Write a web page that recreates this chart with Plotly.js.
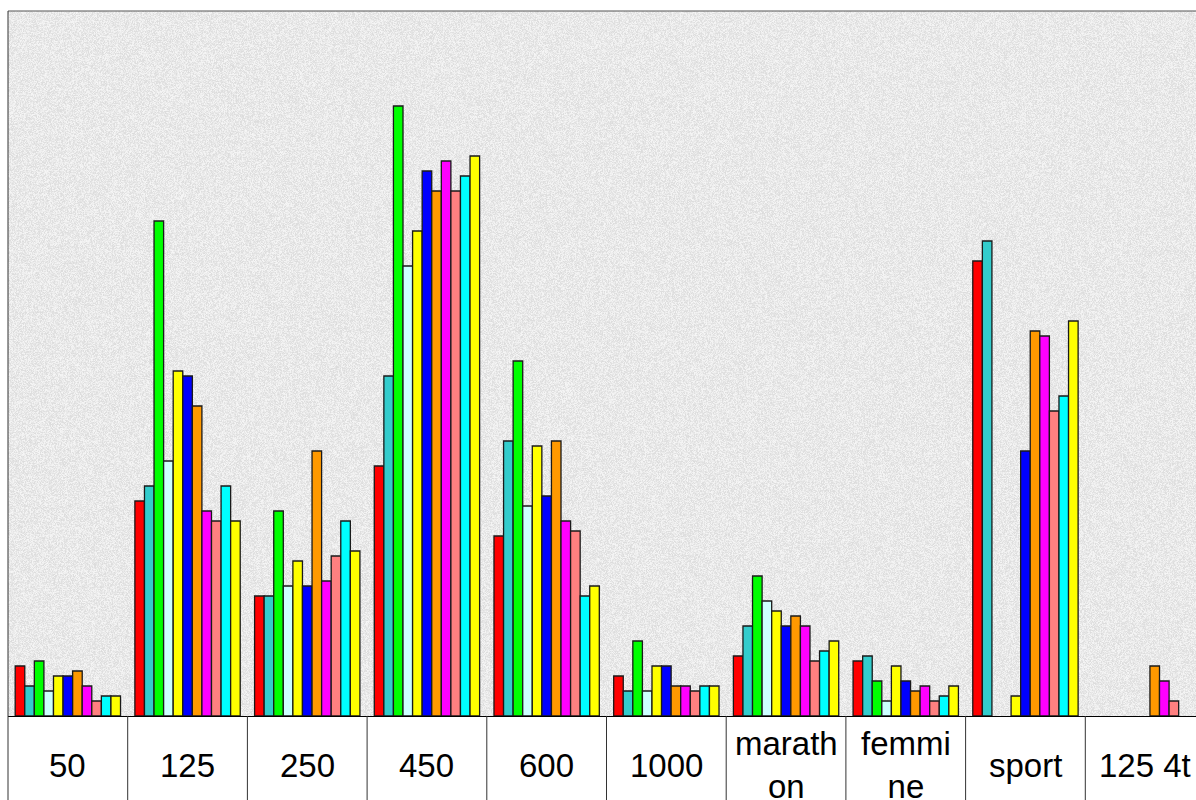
<!DOCTYPE html>
<html>
<head>
<meta charset="utf-8">
<script src="https://cdn.plot.ly/plotly-3.0.1.min.js"></script>
<style>html,body{margin:0;padding:0;overflow:hidden;background:#ffffff}</style>
</head>
<body>
<div id="chart"></div>
<script>
// ---- data ----
const categories = ["50", "125", "250", "450", "600", "1000", "marathon", "femmine", "sport", "125 4t"];
const tickLabels = ["50", "125", "250", "450", "600", "1000", "marath<br>on", "femmi<br>ne", "sport", "125 4t"];

const serie1  = [10, 43, 24,  50, 36,  8, 12, 11, 91, null];
const serie2  = [ 6, 46, 24,  68, 55,  5, 18, 12, 95, null];
const serie3  = [11, 99, 41, 122, 71, 15, 28,  7, null, null];
const serie4  = [ 5, 51, 26,  90, 42,  5, 23,  3, null, null];
const serie5  = [ 8, 69, 31,  97, 54, 10, 21, 10,  4, null];
const serie6  = [ 8, 68, 26, 109, 44, 10, 18,  7, 53, null];
const serie7  = [ 9, 62, 53, 105, 55,  6, 20,  5, 77, 10];
const serie8  = [ 6, 41, 27, 111, 39,  6, 18,  6, 76,  7];
const serie9  = [ 3, 39, 32, 105, 37,  5, 11,  3, 61,  3];
const serie10 = [ 4, 46, 39, 108, 24,  6, 13,  4, 64, null];
const serie11 = [ 4, 39, 33, 112, 26,  6, 15,  6, 79, null];

const seriesNames = ["Série 1","Série 2","Série 3","Série 4","Série 5","Série 6","Série 7","Série 8","Série 9","Série 10","Série 11"];
const seriesValues = [serie1, serie2, serie3, serie4, serie5, serie6, serie7, serie8, serie9, serie10, serie11];
const seriesColors = ["#FF0000","#33CCCC","#00FF00","#CCFFFF","#FFFF00","#0000FF","#FF9900","#FF00FF","#FF8080","#00FFFF","#FFFF00"];

// ---- decorative paper texture for the plot background ----
function texture(w, h) {
  const c = document.createElement('canvas');
  c.width = w; c.height = h;
  const ctx = c.getContext('2d');
  const img = ctx.createImageData(w, h);
  let s = 2463534242;
  for (let i = 0; i < w * h; i++) {
    s ^= s << 13; s ^= s >>> 17; s ^= s << 5;
    const r = ((s >>> 0) % 1000) / 1000;
    const g = Math.round(220 + r * 26);
    img.data[4*i] = g; img.data[4*i+1] = g; img.data[4*i+2] = g; img.data[4*i+3] = 255;
  }
  ctx.putImageData(img, 0, 0);
  return c.toDataURL('image/png');
}

const W = 1210, H = 800;
const M = {l: 8, r: 5, t: 11, b: 84};
const plotH = H - M.t - M.b;
const belowFrac = M.b / plotH;
const n = categories.length;

const traces = seriesValues.map((vals, i) => ({
  type: 'bar',
  name: seriesNames[i],
  x: categories,
  y: vals,
  marker: {color: seriesColors[i], line: {color: '#1a1a1a', width: 1.3}},
  hoverinfo: 'x+y+name'
}));

const shapes = [
  {type: 'line', xref: 'paper', yref: 'paper', x0: 0, x1: 1, y0: 1, y1: 1, line: {color: '#555555', width: 1}},
  {type: 'line', xref: 'paper', yref: 'paper', x0: 0, x1: 0, y0: 1, y1: -belowFrac, line: {color: '#333333', width: 1}}
];
for (let k = 1; k < n; k++) {
  shapes.push({type: 'line', xref: 'paper', yref: 'paper', x0: k / n, x1: k / n,
    y0: 0, y1: -belowFrac, line: {color: '#333333', width: 1}});
}

const annotations = tickLabels.map((t, i) => ({
  xref: 'paper', yref: 'paper', x: (i + 0.5) / n, y: -49 / plotH,
  text: t, showarrow: false, xanchor: 'center', yanchor: 'middle',
  font: {family: 'Liberation Sans, Arial, sans-serif', size: 33, color: '#000000'}
}));

const layout = {
  width: W, height: H,
  margin: M,
  paper_bgcolor: '#ffffff',
  plot_bgcolor: '#e9e9e9',
  showlegend: false,
  barmode: 'group',
  bargap: 0.12,
  bargroupgap: 0,
  xaxis: {type: 'category', range: [-0.5, 9.5], showticklabels: false, ticks: '', showgrid: false,
    showline: true, linecolor: '#000000', linewidth: 1, zeroline: false, fixedrange: true},
  yaxis: {range: [0, 141], showticklabels: false, ticks: '', showgrid: false, zeroline: false,
    showline: false, fixedrange: true},
  images: [{source: texture(1197, 705), xref: 'paper', yref: 'paper', x: 0, y: 1, sizex: 1, sizey: 1,
    xanchor: 'left', yanchor: 'top', sizing: 'stretch', layer: 'below'}],
  shapes: shapes,
  annotations: annotations
};

Plotly.newPlot('chart', traces, layout, {displayModeBar: false, staticPlot: true});
</script>
</body>
</html>
